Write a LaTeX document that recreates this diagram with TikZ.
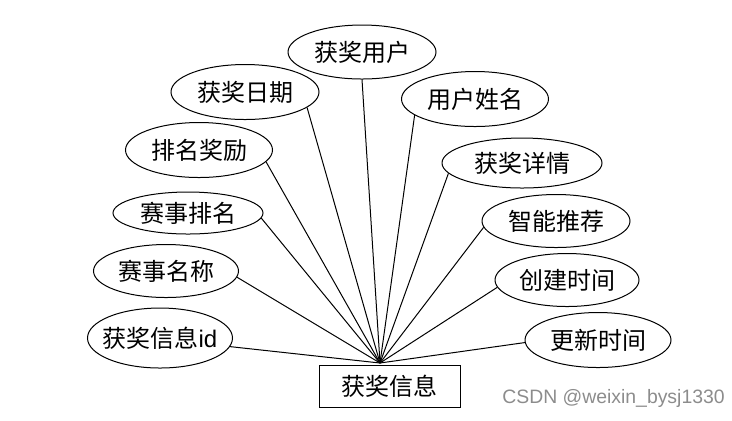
\documentclass[tikz,border=0pt]{standalone}
\usepackage{fontspec}
\setmainfont{Liberation Sans}
\newfontfamily\cjk{Noto Sans CJK SC}
\usetikzlibrary{shapes.geometric}
\tikzset{attr/.style={draw,ellipse,inner sep=0pt,font=\cjk\fontsize{12}{14}\selectfont},
  entity/.style={draw,inner sep=0pt,minimum width=70.5pt,minimum height=21pt,font=\cjk\fontsize{12}{14}\selectfont},
  lnk/.style={line width=.5pt}}

\begin{document}
\begin{tikzpicture}[x=.5pt,y=-.5pt,lnk]
\useasboundingbox (0,0) rectangle (732,420);
%entity
\node[entity] (info) at (389.5,386) {获奖信息};
\coordinate (hub) at (380,363);
%left attributes
\node[attr,minimum width=74pt,minimum height=27pt] (user)  at (362,52)  {获奖用户};
\node[attr,minimum width=74pt,minimum height=27.5pt] (date) at (245,92) {获奖日期};
\node[attr,minimum width=73.5pt,minimum height=27.5pt] (prize) at (199,150) {排名奖励};
\node[attr,minimum width=75pt,minimum height=21pt] (rank)  at (188,213) {赛事排名};
\node[attr,minimum width=72.5pt,minimum height=26.5pt] (match) at (166,271) {赛事名称};
\node[attr,inner xsep=-6pt,minimum width=72.5pt,minimum height=30pt] (id) at (160,338) {获奖信息{\rmfamily id}};
%right attributes
\node[attr,minimum width=73.5pt,minimum height=27.5pt] (name) at (475,99)  {用户姓名};
\node[attr,minimum width=80pt,minimum height=25pt] (detail) at (522,163) {获奖详情};
\node[attr,minimum width=74pt,minimum height=26.5pt] (rec)    at (556,221) {智能推荐};
\node[attr,minimum width=72pt,minimum height=26.5pt] (create) at (567,280) {创建时间};
\node[attr,minimum width=73pt,minimum height=27.5pt] (update) at (598,340) {更新时间};
%links
\draw (user.-90)   -- (hub);
\draw (date.-14)   -- (hub);
\draw (prize.-10)  -- (hub);
\draw (rank.-4)    -- (hub);
\draw (match.-5)   -- (hub);
\draw (id.-7)      -- (hub);
\draw (name.-165)  -- (hub);
\draw (detail.-172) -- (hub);
\draw (rec.-175)   -- (hub);
\draw (create.-174) -- (hub);
\draw (update.-178) -- (hub);
\node[text=black!45,font=\fontsize{9.7}{11}\selectfont] (mark) at (613.5,398) {CSDN @weixin\_bysj1330};
\end{tikzpicture}
\end{document}
